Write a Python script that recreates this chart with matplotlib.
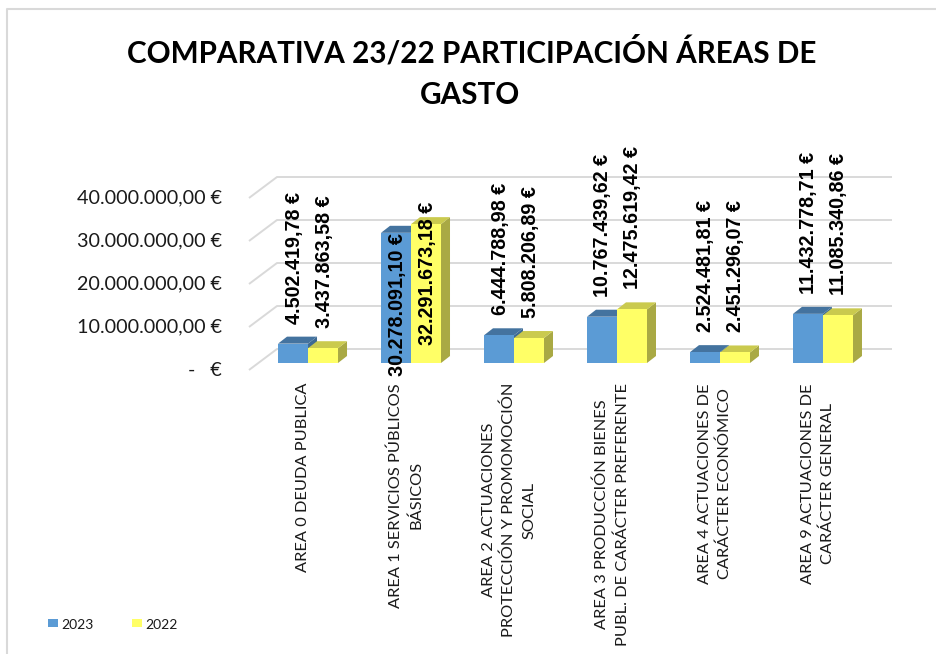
import matplotlib
matplotlib.use("Agg")
import matplotlib.pyplot as plt
from matplotlib.patches import Polygon, Rectangle
from matplotlib.lines import Line2D
import numpy as np

# ---------------- data ----------------
categories = [
    "AREA 0 DEUDA PUBLICA",
    "AREA 1 SERVICIOS PÚBLICOS\nBÁSICOS",
    "AREA 2 ACTUACIONES\nPROTECCIÓN Y PROMOMOCIÓN\nSOCIAL",
    "AREA 3 PRODUCCIÓN BIENES\nPUBL. DE CARÁCTER PREFERENTE",
    "AREA 4 ACTUACIONES DE\nCARÁCTER ECONÓMICO",
    "AREA 9 ACTUACIONES DE\nCARÁCTER GENERAL",
]
values_2023 = [4502419.78, 30278091.10, 6444788.98, 10767439.62, 2524481.81, 11432778.71]
values_2022 = [3437863.58, 32291673.18, 5808206.89, 12475619.42, 2451296.07, 11085340.86]
series_names = ["2023", "2022"]
y_ticks = [0, 10e6, 20e6, 30e6, 40e6]
title_lines = ["COMPARATIVA 23/22 PARTICIPACIÓN ÁREAS DE", "GASTO"]

# ---------------- style ----------------
W, H = 937, 654
front_cols = ["#5B9BD5", "#FFFF66"]
top_cols = ["#44739F", "#CACA4E"]
side_cols = ["#3E6A93", "#A9A944"]
grid_col = "#D9D9D9"
DEPTH_DX, DEPTH_DY = 9, 7  # bar depth (pixels)


def euro(v):
    s = f"{v:,.2f}".replace(",", "X").replace(".", ",").replace("X", ".")
    return s + " €"


def tick_label(v):
    if v == 0:
        return "-   €"
    return euro(v)


fig = plt.figure(figsize=(W / 100, H / 100), dpi=100)
fig.patch.set_facecolor("white")

# axes = front plane of the bars
ax = fig.add_axes([249 / W, 1 - 363 / H, 633 / W, 172 / H])
ax.set_xlim(-0.573, 5.573)
ax.set_ylim(0, 40e6)
ax.axis("off")


def pt(x, y, dx=0.0, dy=0.0):
    d = ax.transData.transform((x, y)) + np.array([dx, dy])
    return ax.transData.inverted().transform(d)


x = np.arange(len(categories))
xlo, xhi = ax.get_xlim()
back_right_dx = 892 - 249

# gridlines (front-left slanted part + back wall)
for v in y_ticks:
    p0 = pt(xlo, v, 0, -7)
    p1 = pt(xlo, v, 28, 14)
    p2 = pt(xlo, v, back_right_dx, 14)
    ax.plot([p0[0], p1[0], p2[0]], [p0[1], p1[1], p2[1]], color=grid_col,
            lw=1.4, zorder=1, clip_on=False, solid_capstyle="butt")
    ax.annotate(tick_label(v), (xlo, v), xytext=(-27, -7), textcoords="offset pixels",
                ha="right", va="center", fontsize=14.2, family="Lato",
                color="#1a1a1a", annotation_clip=False)

# bars with 3D faces
w = 30 / 103
series = [values_2023, values_2022]
label_inside = {(1, 0): 0, (1, 1): 22}
lab_font = dict(fontsize=14.2, fontweight="bold", family="Liberation Sans", zorder=20,
                annotation_clip=False, rotation=90, ha="center", textcoords="offset pixels")
for s, vals in enumerate(series):
    offs = -w / 2 if s == 0 else w / 2
    zb = 3 + 3 * s
    bars = ax.bar(x + offs, vals, width=w, color=front_cols[s], zorder=zb + 2,
                  linewidth=0, clip_on=False)
    for i, (b, v) in enumerate(zip(bars, vals)):
        xl = b.get_x()
        xr = xl + b.get_width()
        side = Polygon([pt(xr, 0), pt(xr, v), pt(xr, v, DEPTH_DX, DEPTH_DY),
                        pt(xr, 0, DEPTH_DX, DEPTH_DY)], closed=True,
                       facecolor=side_cols[s], edgecolor="none", zorder=zb, clip_on=False)
        top = Polygon([pt(xl, v), pt(xr, v), pt(xr, v, DEPTH_DX, DEPTH_DY),
                       pt(xl, v, DEPTH_DX, DEPTH_DY)], closed=True,
                      facecolor=top_cols[s], edgecolor="none", zorder=zb + 1, clip_on=False)
        ax.add_patch(side)
        ax.add_patch(top)
        xc = xl + b.get_width() / 2
        if (i, s) in label_inside:
            ax.annotate(euro(v), (xc, v), xytext=(1, label_inside[(i, s)]), va="top",
                        **lab_font)
        else:
            ax.annotate(euro(v), (xc, v), xytext=(1, 20), va="bottom", **lab_font)

# category labels
for i, cat in enumerate(categories):
    ax.annotate(cat, (x[i], 0), xytext=(-5, -20), textcoords="offset pixels",
                rotation=90, ha="center", va="top", multialignment="center",
                fontsize=11.8, family="Lato", linespacing=1.55, color="#1a1a1a",
                annotation_clip=False, zorder=10)

# title, fitted to width
renderer = fig.canvas.get_renderer()
t1 = fig.text(471.5 / W, 1 - 52 / H, title_lines[0], ha="center", va="center",
              fontsize=20, fontweight="bold", family="Lato")
wpx = t1.get_window_extent(renderer).width
fs = 20 * 690 / wpx
t1.set_fontsize(fs)
fig.text(470 / W, 1 - 95 / H, title_lines[1], ha="center", va="center",
         fontsize=fs, fontweight="bold", family="Lato")

# legend
leg_x = [48, 132]
for s, name in enumerate(series_names):
    fig.patches.append(Rectangle((leg_x[s] / W, 1 - 627 / H), 10 / W, 8 / H,
                                 transform=fig.transFigure, facecolor=front_cols[s],
                                 edgecolor="none"))
    fig.text((leg_x[s] + 13) / W, 1 - 625 / H, name, ha="left", va="center",
             fontsize=10, family="Lato", color="#1a1a1a")

# chart border (top and left visible)
fig.lines.append(Line2D([7 / W, 7 / W, 1.0], [0.0, 1 - 9 / H, 1 - 9 / H],
                        transform=fig.transFigure, color="#D9D9D9", lw=1.5))

fig.savefig("out.png", dpi=100)
